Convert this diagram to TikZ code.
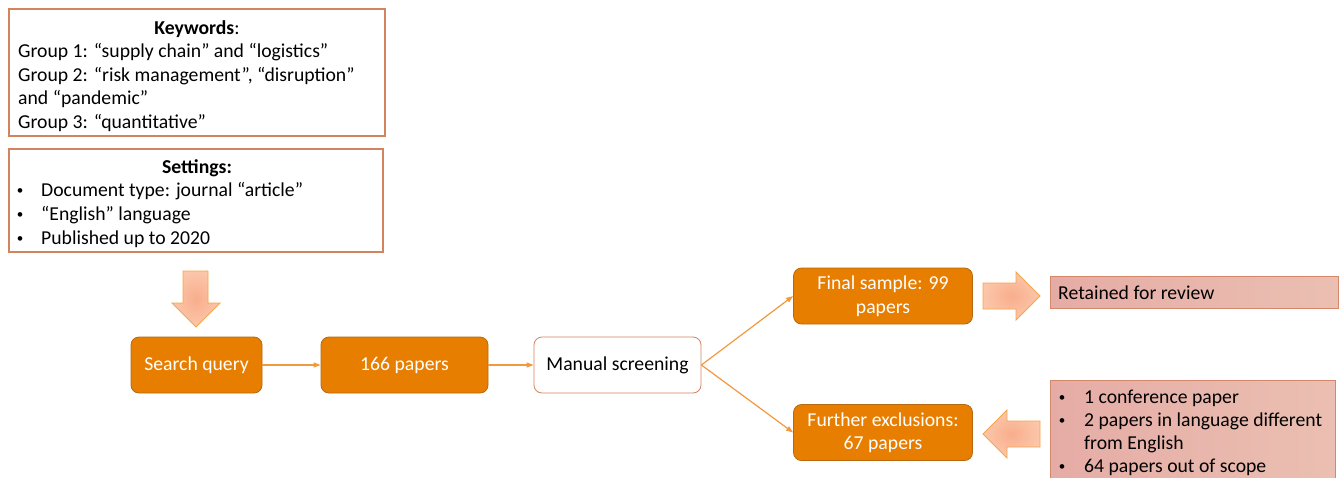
\documentclass[tikz,border=0pt]{standalone}
\usepackage{fontspec}
\setmainfont{Carlito}
\newfontfamily\bulletfont{Liberation Sans}
\usetikzlibrary{arrows.meta}
\definecolor{orfill}{HTML}{E77E00}
\definecolor{ordraw}{HTML}{B8690F}
\definecolor{boxline}{HTML}{D2845F}
\definecolor{conn}{HTML}{F2993D}
\definecolor{arrout}{HTML}{FCC6AA}
\definecolor{arrin}{HTML}{F8AE8C}
\definecolor{arrdraw}{HTML}{F5A54A}
\definecolor{pinkA}{HTML}{E5ACA5}
\definecolor{pinkB}{HTML}{EBBFB2}
\definecolor{pinkdraw}{HTML}{D5876A}
\newcommand{\bul}{{\bulletfont\fontsize{17}{17}\selectfont •}}
\tikzset{
  fnt/.style={font=\fontsize{19.7}{23.5}\selectfont},
  orbox/.style={fnt, draw=ordraw, line width=0.8pt, fill=orfill, rounded corners=8pt, text=white, align=center, minimum height=56pt, inner sep=0pt},
  whbox/.style={fnt, draw=boxline, line width=0.8pt, fill=white, rounded corners=8pt, text=black, align=center, minimum height=56pt, inner sep=0pt},
  frame/.style={draw=boxline, line width=1.2pt},
  txt/.style={fnt, inner sep=0pt, anchor=base west},
  ctxt/.style={fnt, inner sep=0pt, anchor=base},
  link/.style={draw=conn, line width=1.2pt, -{Triangle[length=7pt,width=5pt]}},
  bigarrow/.style={draw=arrdraw, line width=0.9pt, inner color=arrin, outer color=arrout},
  pinkbox/.style={draw=pinkdraw, line width=1pt, left color=pinkA, right color=pinkB},
}
\begin{document}
\begin{tikzpicture}[x=1pt,y=-1pt]
\clip (0,0) rectangle (1341,477);
\fill[white] (0,0) rectangle (1341,477);
% keywords box
\draw[frame] (9,9) rectangle (385,136);
\node[ctxt] (kwt) at (197,34) {\textbf{Keywords}:};
\node[txt] (kw1) at (18,57) {Group 1: “supply chain” and “logistics”};
\node[txt] (kw2) at (18,81) {Group 2: “risk management”, “disruption”};
\node[txt] (kw3) at (18,104) {and “pandemic”};
\node[txt] (kw4) at (18,128) {Group 3: “quantitative”};
% settings box
\draw[frame] (9,149) rectangle (383,252);
\node[ctxt] (stt) at (197,173) {\textbf{Settings:}};
\node[txt] (sb1) at (17,196) {\bul};
\node[txt] (st1) at (41,196) {Document type: journal “article”};
\node[txt] (sb2) at (17,220) {\bul};
\node[txt] (st2) at (41,220) {“English” language};
\node[txt] (sb3) at (17,244) {\bul};
\node[txt] (st3) at (41,244) {Published up to 2020};
% down arrow
\draw[bigarrow] (183,271) -- (208,271) -- (208,303) -- (220,303) -- (196,327) -- (172,303) -- (183,303) -- cycle;
% process boxes
\node[orbox, minimum width=131pt] (sq) at (196.5,365) {Search query};
\node[orbox, minimum width=167pt] (p166) at (404.5,365) {166 papers};
\node[whbox, minimum width=167pt] (ms) at (617.5,365) {Manual screening};
\node[orbox, minimum width=179pt] (fin) at (883,296) {Final sample: 99\\papers};
\node[orbox, minimum width=179pt] (fur) at (883,432.5) {Further exclusions:\\67 papers};
\draw[link] (sq) -- (p166);
\draw[link] (p166) -- (ms);
\draw[link] (ms.east) -- (fin.west);
\draw[link] (ms.east) -- (fur.west);
% right arrow
\draw[bigarrow] (983,283) -- (1016,283) -- (1016,272) -- (1040,296) -- (1016,320) -- (1016,309) -- (983,309) -- cycle;
% left arrow
\draw[bigarrow] (1040,421) -- (1007,421) -- (1007,410) -- (983,434) -- (1007,458) -- (1007,447) -- (1040,447) -- cycle;
% pink boxes
\draw[pinkbox] (1050,276) rectangle (1338,308);
\node[txt] (ret) at (1058,299) {Retained for review};
\draw[pinkbox] (1050,380) rectangle (1335,495);
\node[txt] (eb1) at (1059,403) {\bul};
\node[txt] (ex1) at (1084,403) {1 conference paper};
\node[txt] (eb2) at (1059,426) {\bul};
\node[txt] (ex2) at (1084,426) {2 papers in language different};
\node[txt] (ex2b) at (1084,449) {from English};
\node[txt] (eb3) at (1059,472) {\bul};
\node[txt] (ex3) at (1084,472) {64 papers out of scope};
\end{tikzpicture}
\end{document}
